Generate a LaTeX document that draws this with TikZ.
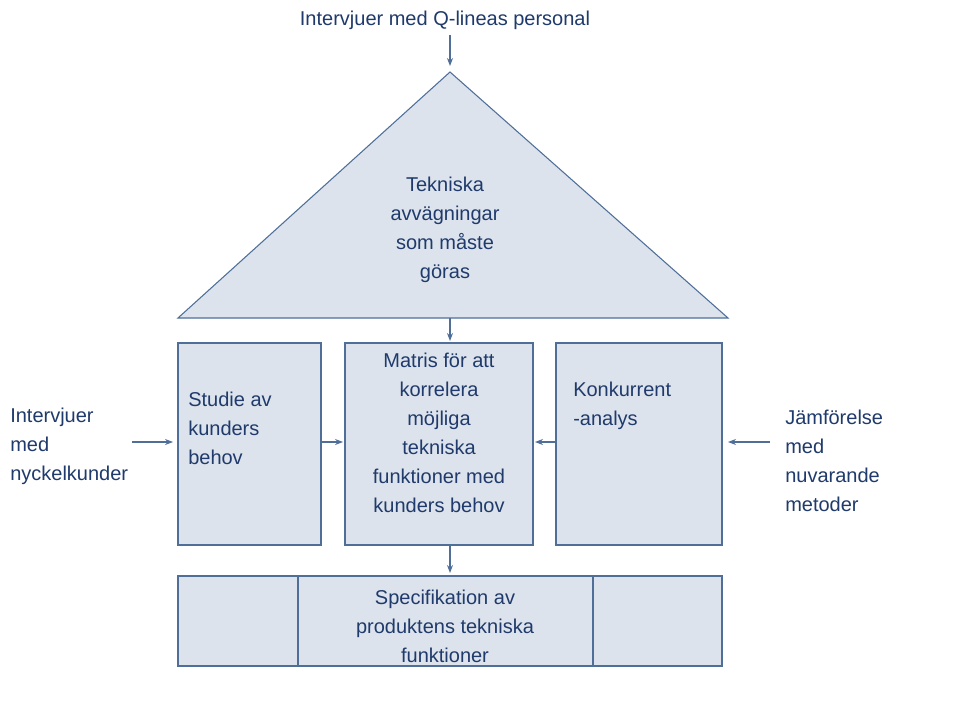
\documentclass[tikz,border=0pt]{standalone}
\usepackage{fontspec}
\setmainfont{Liberation Sans}
\usetikzlibrary{arrows.meta}
\definecolor{fillc}{HTML}{DCE3EC}
\definecolor{edgec}{HTML}{4F6F99}
\definecolor{txt}{HTML}{1F3A6B}
\begin{document}
\begin{tikzpicture}[x=0.75pt,y=-0.75pt,
  shapebox/.style={fill=fillc,draw=edgec,line width=0.8pt},
  arr/.style={draw=edgec,line width=0.8pt,-{Stealth[length=6pt,width=4.5pt]}},
  lbl/.style={text=txt,font=\fontsize{15}{21.7}\selectfont,inner sep=0pt}]
\useasboundingbox[fill=white] (0,0) rectangle (960,720);
\draw[shapebox] (450,72) -- (728,318) -- (178,318) -- cycle;
\node[lbl,align=center] (tri) at (445,230) {Tekniska\\avvägningar\\som måste\\göras};
\coordinate (apex) at (450,66);
\coordinate (base) at (450,318);
\draw[shapebox] (178,343) rectangle (321,545);
\draw[shapebox] (345,343) rectangle (533,545);
\draw[shapebox] (556,343) rectangle (722,545);
\draw[shapebox] (178,576) rectangle (722,666);
\draw[edgec,line width=0.8pt] (298,576) -- (298,666) (593,576) -- (593,666);
\coordinate (lb) at (321,442); \coordinate (mbl) at (343,442);
\coordinate (rb) at (556,442); \coordinate (mbr) at (535,442);
\coordinate (mbt) at (450,341); \coordinate (mbb) at (450,545);
\coordinate (bt) at (450,573);
\coordinate (lbin) at (173,442); \coordinate (rbin) at (728,442);
\node[lbl] (top) at (445,20) {Intervjuer med Q-lineas personal};
\coordinate (topa) at (450,35);
\node[lbl,align=left,anchor=west] (study) at (188,428) {Studie av\\kunders\\behov};
\node[lbl,align=center] (mat) at (439,433) {Matris för att\\korrelera\\möjliga\\tekniska\\funktioner med\\kunders behov};
\node[lbl,align=left,anchor=west] (konk) at (573,406) {Konkurrent\\-analys};
\node[lbl,align=left,anchor=west] (lout) at (10,446) {Intervjuer\\med\\nyckelkunder};
\node[lbl,align=left,anchor=west] (rout) at (785,461) {Jämförelse\\med\\nuvarande\\metoder};
\node[lbl,align=center] (spec) at (445,626) {Specifikation av\\produktens tekniska\\funktioner};
\coordinate (la) at (132,442); \coordinate (ra) at (770,442);
\draw[arr] (topa) -- (apex);
\draw[arr] (base) -- (mbt);
\draw[arr] (la) -- (lbin);
\draw[arr] (lb) -- (mbl);
\draw[arr] (rb) -- (mbr);
\draw[arr] (ra) -- (rbin);
\draw[arr] (mbb) -- (bt);
\end{tikzpicture}
\end{document}
